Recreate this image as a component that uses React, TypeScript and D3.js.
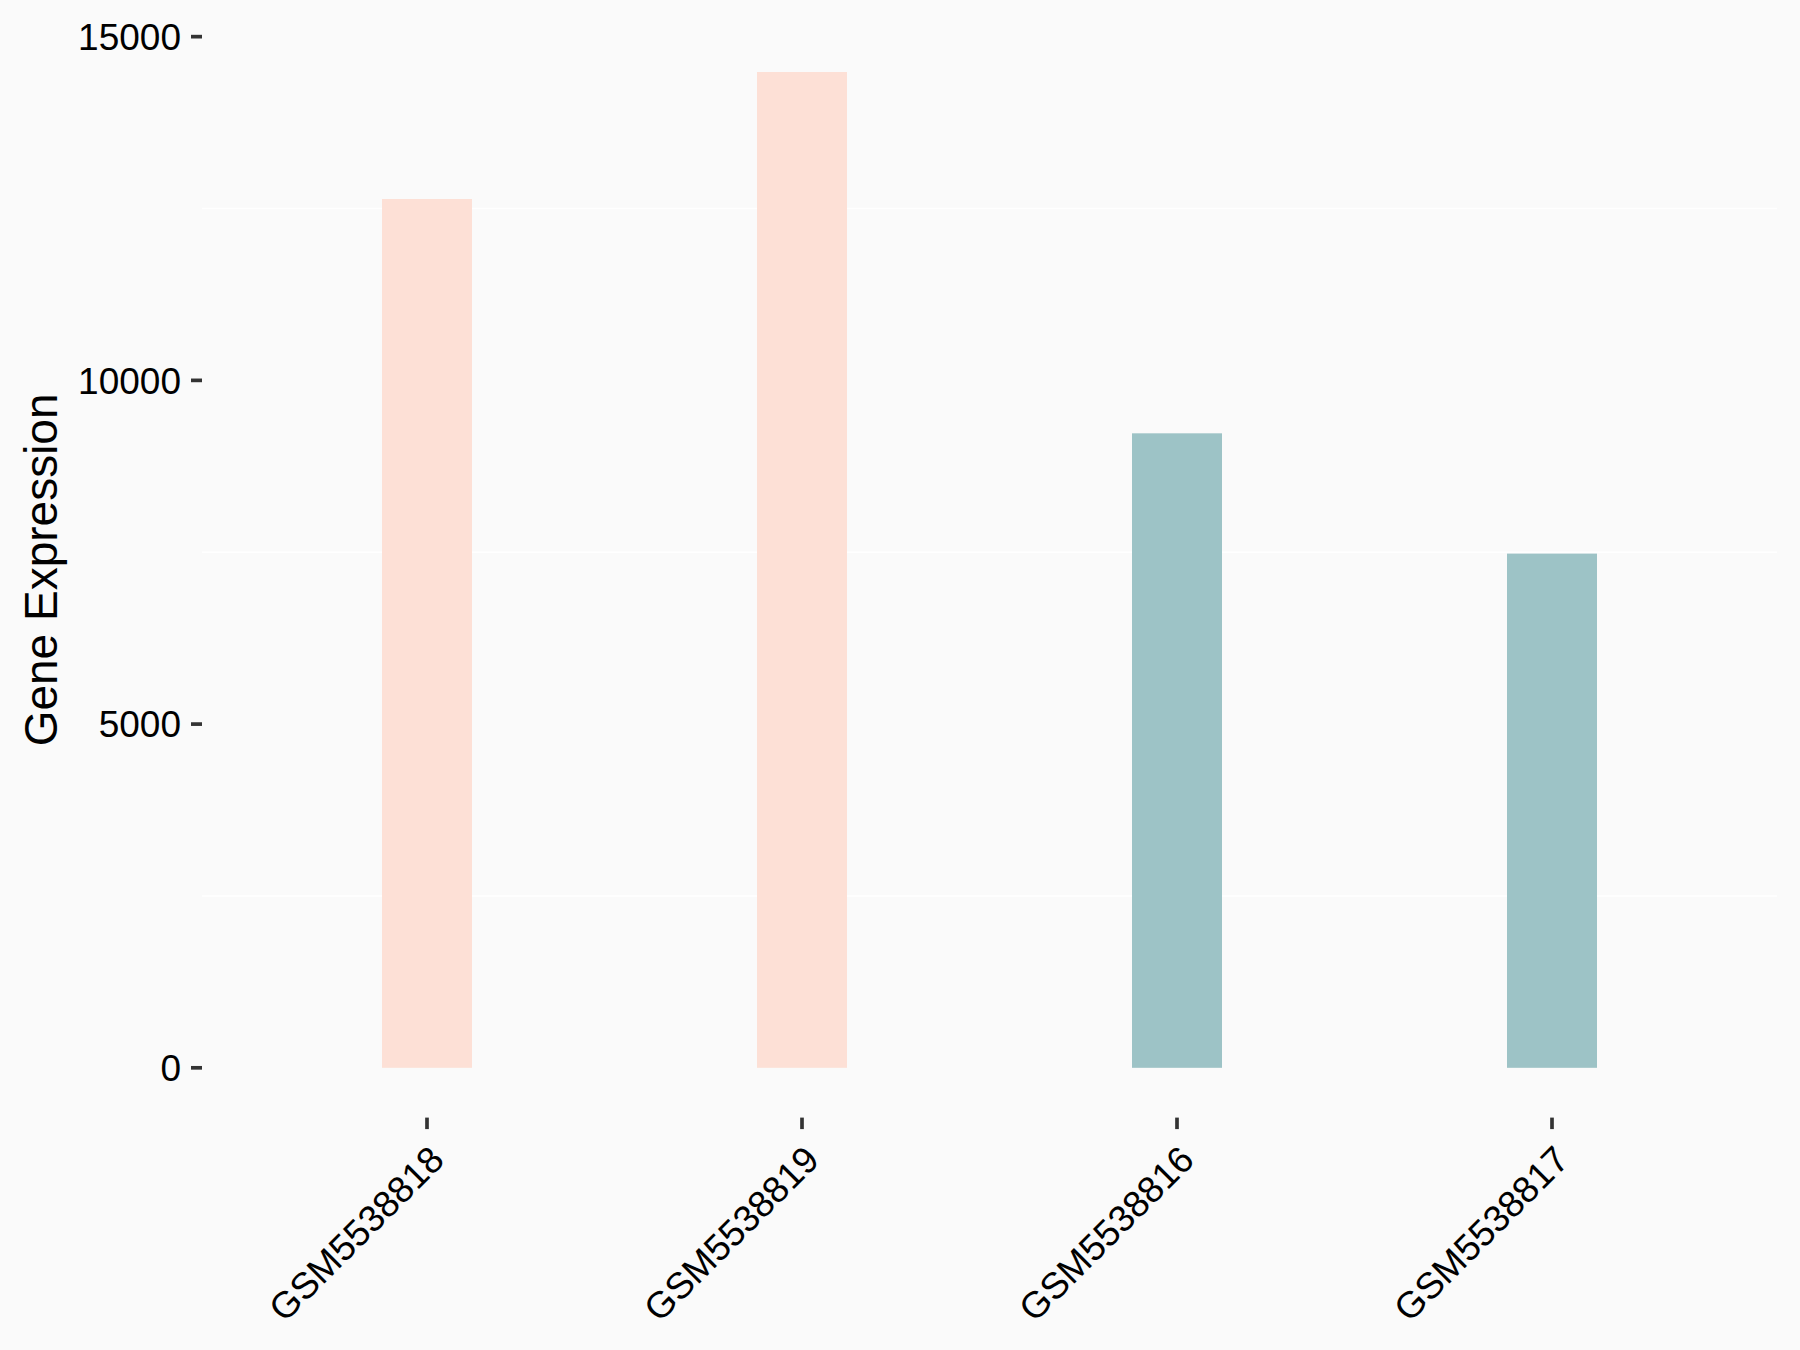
import React from "react";
import * as d3 from "d3";

const samples = ["GSM5538818", "GSM5538819", "GSM5538816", "GSM5538817"];
const expression = [12638, 14486, 9230, 7480];
const groups = ["G1", "G1", "G2", "G2"];
const groupColors = ["#FDE0D6", "#9DC3C6"];
const yTicks = [0, 5000, 10000, 15000];
const yMinorGrid = [2500, 7500, 12500];
const yTitle = "Gene Expression";

const W = 1800;
const H = 1350;
const panel = { left: 202, right: 1777, top: 22.2, bottom: 1117.6 };
const FONT = "'Liberation Sans', Arial, Helvetica, sans-serif";

export default function App() {
  const maxV = d3.max(expression) as number;
  const expand = maxV * 0.05;
  const y = d3
    .scaleLinear()
    .domain([0 - expand, maxV + expand])
    .range([panel.bottom, panel.top]);
  const x = d3
    .scalePoint<string>()
    .domain(samples)
    .range([panel.left, panel.right])
    .padding(0.6);
  const step = x.step();
  const barW = step * 0.24;
  const color = d3.scaleOrdinal<string, string>().domain(["G1", "G2"]).range(groupColors);

  const tickLen = 11;
  const tickW = 3.7;
  const tickColor = "#333333";

  return (
    <div style={{ position: "absolute", left: 0, top: 0 }}>
      <svg width={W} height={H} style={{ display: "block" }}>
        <rect x={0} y={0} width={W} height={H} fill="#FAFAFA" />
        {yMinorGrid.map((v) => (
          <line
            key={"g" + v}
            x1={panel.left}
            x2={panel.right}
            y1={y(v)}
            y2={y(v)}
            stroke="#FFFFFF"
            strokeWidth={1.6}
          />
        ))}
        {samples.map((s, i) => (
          <rect
            key={s}
            x={(x(s) as number) - barW / 2}
            width={barW}
            y={y(expression[i])}
            height={y(0) - y(expression[i])}
            fill={color(groups[i])}
          />
        ))}
        {yTicks.map((t) => (
          <g key={"yt" + t}>
            <line
              x1={panel.left - tickLen}
              x2={panel.left}
              y1={y(t)}
              y2={y(t)}
              stroke={tickColor}
              strokeWidth={tickW}
            />
            <text
              x={panel.left - tickLen - 10}
              y={y(t)}
              dy="0.36em"
              textAnchor="end"
              fontFamily={FONT}
              fontSize={37}
              fill="#000000"
            >
              {t}
            </text>
          </g>
        ))}
        {samples.map((s) => {
          const cx = x(s) as number;
          return (
            <g key={"xt" + s}>
              <line
                x1={cx}
                x2={cx}
                y1={panel.bottom}
                y2={panel.bottom + tickLen + 0.5}
                stroke={tickColor}
                strokeWidth={tickW}
              />
              <text
                transform={`translate(${cx + 19},${1162}) rotate(-45)`}
                textAnchor="end"
                fontFamily={FONT}
                fontSize={37}
                fill="#000000"
              >
                {s}
              </text>
            </g>
          );
        })}
        <text
          transform={`translate(57,${(panel.top + panel.bottom) / 2}) rotate(-90)`}
          textAnchor="middle"
          fontFamily={FONT}
          fontSize={46}
          fill="#000000"
        >
          {yTitle}
        </text>
      </svg>
    </div>
  );
}
